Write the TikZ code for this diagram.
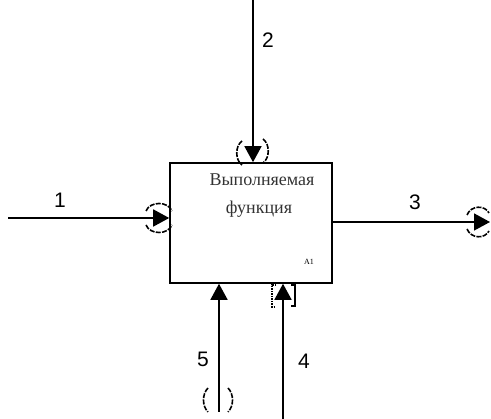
\documentclass[tikz,border=0pt]{standalone}
\usepackage{fontspec}
\setmainfont{Liberation Serif}
\newfontfamily\numfont{Liberation Sans}
\usetikzlibrary{arrows.meta}
\begin{document}
\begin{tikzpicture}[x=1pt,y=-1pt,
  line/.style={line width=1.6pt},
  arr/.style={line, -{Triangle[length=16pt,width=17pt]}},
  tunnel/.style={line width=1.6pt, dash pattern=on 5pt off 1.3pt},
  num/.style={font=\numfont\fontsize{21}{21}\selectfont, inner sep=0pt},
  ttl/.style={font=\fontsize{18}{20}\selectfont, inner sep=0pt, text=black!80}]
\useasboundingbox (0,0) rectangle (491,419);
\node[draw, line width=1.6pt, minimum width=162pt, minimum height=120pt, inner sep=0pt] (box) at (251,223) {};
\node[ttl, anchor=base] (t1) at (262,186) {Выполняемая};
\node[ttl, anchor=base] (t2) at (259,214) {функция};
\node[font=\fontsize{8}{8}\selectfont, inner sep=0pt] (a1) at (309,262) {A1};
% connectors
\coordinate (i1) at (8,218);
\draw[arr] (i1) -- (box.west |- i1);
\coordinate (c2) at (253,0);
\draw[arr] (c2) -- (c2 |- box.north);
\coordinate (o3) at (490,222);
\draw[arr] (box.east |- o3) -- (o3);
\coordinate (m5) at (219,412);
\draw[arr] (m5) -- (m5 |- box.south);
\coordinate (m4) at (283,419);
\draw[arr] (m4) -- (m4 |- box.south);
% labels
\node[num] (l1) at (60,200) {1};
\node[num] (l2) at (268,40) {2};
\node[num] (l3) at (415,202) {3};
\node[num] (l5) at (203,359) {5};
\node[num] (l4) at (304,361) {4};
% tunnels
\draw[tunnel] (146,211) .. controls (150,201) and (168,201) .. (172,211);
\draw[tunnel] (146,225) .. controls (150,235) and (168,235) .. (172,225);
\draw[tunnel] (242,141) .. controls (235,146) and (235,160) .. (242,165);
\draw[tunnel] (263,139) .. controls (270,144) and (270,158) .. (263,163);
\draw[tunnel] (467,215) .. controls (471,205) and (485,205) .. (489,213);
\draw[tunnel] (467,229) .. controls (471,239) and (485,239) .. (489,231);
\draw[tunnel] (208,388) .. controls (202,394) and (202,406) .. (208,412);
\draw[tunnel] (228,388) .. controls (234,394) and (234,406) .. (228,412);
\draw[line width=1.5pt, densely dotted] (276,285) -- (272,285) -- (272,307) -- (276,307);
\draw[line width=1.6pt] (291,285) -- (295,285) -- (295,306) -- (291,306);
\end{tikzpicture}
\end{document}
